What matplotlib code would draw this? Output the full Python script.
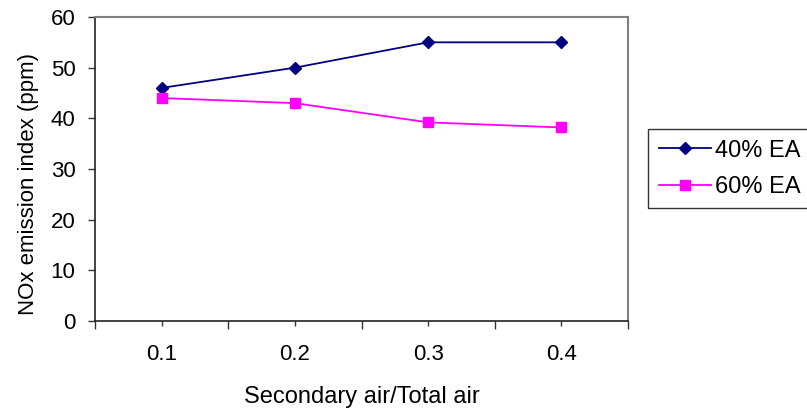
import matplotlib
matplotlib.use("Agg")
import matplotlib.pyplot as plt
import numpy as np

# Data
ratio_labels = ["0.1", "0.2", "0.3", "0.4"]
nox_40ea = [46, 50, 55, 55]
nox_60ea = [44, 43, 39.2, 38.2]

plt.rcParams['font.family'] = ['Liberation Sans', 'DejaVu Sans']

fig = plt.figure(figsize=(8.07, 4.15), dpi=100)
ax = fig.add_axes([95 / 807, 94 / 415, 533 / 807, 304 / 415])

x = np.arange(1, len(ratio_labels) + 1)
ax.plot(x, nox_40ea, color='#000080', marker='D', markersize=6.5, lw=1.3,
        label='40% EA')
ax.plot(x, nox_60ea, color='#FF00FF', marker='s', markersize=7, lw=1.3,
        label='60% EA')

ax.set_ylim(0, 60)
ax.set_yticks(range(0, 61, 10))
ax.set_xlim(0.5, len(ratio_labels) + 0.5)

# category boundaries get long ticks, centres get short labelled ticks
ax.set_xticks(np.arange(0.5, len(ratio_labels) + 1, 1.0))
ax.set_xticklabels([])
ax.set_xticks(x, minor=True)
ax.set_xticklabels(ratio_labels, minor=True)
ax.tick_params(axis='x', which='major', length=5.5, width=1, color='#333333')
ax.tick_params(axis='x', which='minor', length=3.5, width=1, color='#333333',
               labelsize=16, pad=13)
ax.tick_params(axis='y', length=5, width=1, color='#333333', labelsize=16, pad=9)

for side in ['left', 'bottom']:
    ax.spines[side].set_color('#222222')
    ax.spines[side].set_linewidth(1.2)
for side in ['top', 'right']:
    ax.spines[side].set_color('#808080')
    ax.spines[side].set_linewidth(1.5)

ax.set_xlabel('Secondary air/Total air', fontsize=17, labelpad=15)
ax.set_ylabel('NOx emission index (ppm)', fontsize=16)
ax.yaxis.set_label_coords(-0.105, 0.45)

leg = fig.legend(loc='upper left', bbox_to_anchor=(648 / 807, 1 - 129 / 415),
                 fontsize=17, frameon=True, fancybox=False, shadow=False,
                 handlelength=2.2, handletextpad=0.2, labelspacing=0.6,
                 borderpad=0.45, borderaxespad=0)
leg.get_frame().set_edgecolor('black')
leg.get_frame().set_linewidth(1)

fig.savefig('out.png', dpi=100)
